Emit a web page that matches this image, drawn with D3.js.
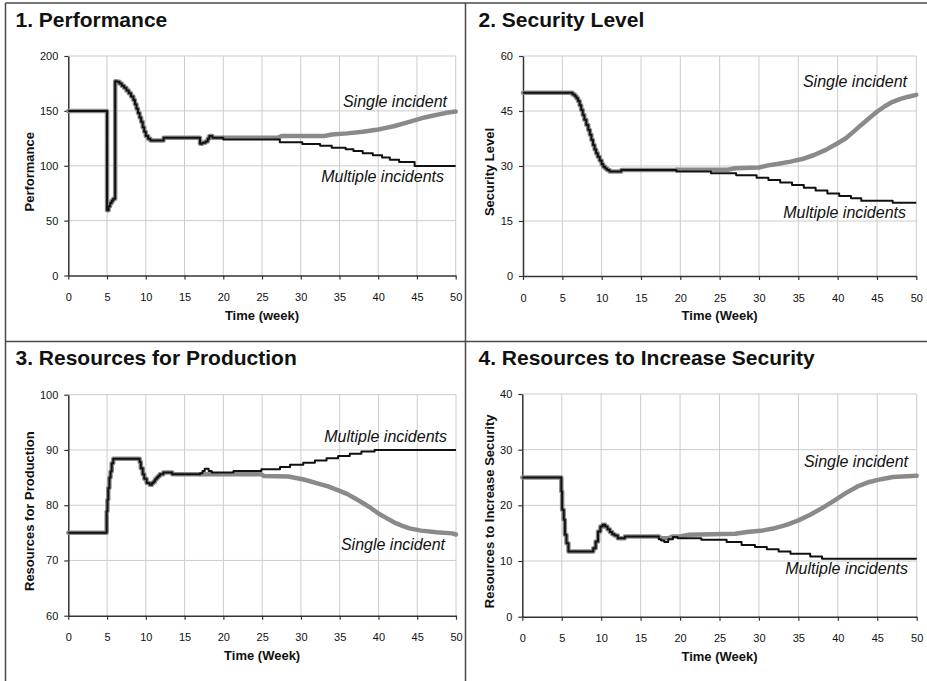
<!DOCTYPE html>
<html>
<head>
<meta charset="utf-8">
<script src="https://cdn.jsdelivr.net/npm/d3@7"></script>
<style>
  html, body { margin: 0; padding: 0; background: #fff; }
  svg { display: block; font-family: "Liberation Sans", Arial, sans-serif; }
</style>
</head>
<body>
<svg id="chart" width="927" height="681"></svg>
<script>
// ---------- DATA ----------
const xTicks = [0, 5, 10, 15, 20, 25, 30, 35, 40, 45, 50];

const titles = ["1. Performance", "2. Security Level", "3. Resources for Production", "4. Resources to Increase Security"];
const yTitles = ["Performance", "Security Level", "Resources for Production", "Resources to Increase Security"];
const xTitles = ["Time (week)", "Time (Week)", "Time (Week)", "Time (Week)"];
const yTicks1 = [0, 50, 100, 150, 200];
const yTicks2 = [0, 15, 30, 45, 60];
const yTicks3 = [60, 70, 80, 90, 100];
const yTicks4 = [0, 10, 20, 30, 40];

// Panel 1: Performance  [week, value]
const perfShared = [[0,150],[5.0,59.5],[5.2,63],[5.4,66],[5.6,68],[5.8,70],[6.05,177],[6.3,176.5],[6.6,175],[6.9,173],[7.2,171],[7.5,168.5],[7.8,166],[8.1,163],[8.4,160],[8.6,156],[8.8,152],[9.0,148],[9.2,144],[9.4,140],[9.6,135],[9.8,131],[10.0,127],[10.3,124.5],[10.6,123],[12.3,125.5],[17.0,120],[17.3,121],[17.7,122],[18.0,124.5],[18.2,127],[18.6,125.5]];
const perfSingle = [[20,125.5],[27,125.5],[27.5,127],[33,127],[34,128.5],[36,129.5],[38,131],[40,133],[41,134.5],[42,136],[43,138],[44,140],[45,142],[46,144],[47,145.5],[48,147],[49,148.5],[50,149.5]];
const perfMultiple = [[20,124],[27.3,121.3],[30.2,119.8],[32.5,118.2],[34,116.4],[35.8,115],[36.8,113.5],[38,111.5],[39.3,109.5],[40.5,107.5],[41.5,105.5],[42.7,103.5],[44.7,99.8],[50,99.8]];

// Panel 2: Security Level
const secShared = [[0,50],[6.3,49.5],[6.6,49],[6.8,48.5],[7.0,47.7],[7.2,46.6],[7.4,45.3],[7.6,43.9],[7.8,42.6],[8.05,41.2],[8.3,39.8],[8.5,38.5],[8.7,37.1],[8.9,35.7],[9.1,34.5],[9.3,33.5],[9.5,32.5],[9.75,31.5],[10.0,30.5],[10.2,29.8],[10.45,29.3],[10.7,28.9],[11.0,28.5],[12.5,28.9]];
const secSingle = [[19.5,29],[26,29],[27,29.4],[30,29.6],[31,30.1],[32.5,30.6],[34,31.2],[35.5,31.9],[37,33],[38.5,34.4],[40,36.2],[41,37.5],[42,39.3],[43,41.2],[44,43],[45,44.8],[46,46.3],[47,47.5],[48,48.3],[49,48.9],[50,49.4]];
const secMultiple = [[19.5,28.5],[23.9,28.0],[27.1,27.5],[29.7,26.8],[31.2,26.2],[32.7,25.5],[34.2,24.8],[35.7,24.1],[37.2,23.3],[38.7,22.5],[40.2,21.8],[41.7,21.2],[43.0,20.5],[47.0,20.0],[50,20.0]];

// Panel 3: Resources for Production
const prodShared = [[0,75],[4.95,78.9],[5.05,81],[5.15,83.1],[5.3,85],[5.45,86.1],[5.6,87.6],[5.8,88.4],[9.2,87.8],[9.35,86.7],[9.6,85.6],[9.8,84.8],[10.1,84],[10.5,83.7],[10.8,84],[11.0,84.3],[11.2,84.7],[11.4,85],[11.6,85.3],[11.8,85.6],[12.25,85.9],[13.4,85.6]];
const prodSingle = [[17,85.6],[24.9,85.6],[25.2,85.3],[28.4,85.2],[30.5,84.6],[32,84.0],[33.5,83.4],[35,82.6],[36,82.0],[37,81.2],[38,80.4],[39,79.5],[40,78.5],[41,77.7],[42,76.9],[43,76.3],[44,75.8],[45.5,75.4],[47.5,75.1],[49.5,74.9],[50,74.7]];
const prodMultiple = [[17,85.8],[17.3,86.2],[17.6,86.6],[18.1,86.2],[18.5,85.9],[21.3,86.2],[24.9,86.5],[27.3,86.9],[28.6,87.3],[30.3,87.7],[31.8,88.1],[33.3,88.5],[34.8,88.9],[36.3,89.3],[37.8,89.7],[39.5,90.0],[50,90.0]];

// Panel 4: Resources to Increase Security
const resShared = [[0,25],[4.95,22.5],[5.05,19.2],[5.25,17.4],[5.4,14.7],[5.6,13.2],[5.85,11.7],[9.0,12.3],[9.3,13.5],[9.6,15.3],[9.9,16.2],[10.2,16.5],[10.5,16.2],[10.8,15.7],[11.1,15.2],[11.4,14.8],[11.7,14.6],[12.1,14.1],[13,14.4]];
const resSingle = [[17.3,14.4],[17.6,14.1],[18.5,14.1],[19,14.4],[20,14.4],[21,14.7],[27,14.9],[28.5,15.2],[30.5,15.5],[32,15.9],[33.5,16.5],[35,17.3],[36.5,18.3],[38,19.5],[39.5,20.8],[41,22.2],[42.5,23.4],[44,24.2],[45.5,24.7],[47,25.1],[50,25.3]];
const resMultiple = [[17.3,13.9],[17.6,13.7],[18,13.4],[18.5,13.9],[19.1,14.3],[19.7,14.1],[22.7,13.8],[25.9,13.4],[27.8,12.9],[29.5,12.5],[31,12.1],[32.5,11.7],[34,11.3],[36.5,10.8],[38,10.4],[50,10.4]];

const seriesNames = ["Single incident", "Multiple incidents"];

// ---------- LAYOUT ----------
const panels = [
  { ox: 0,   oy: 0,   x0: 68.3, x1: 455.7, yT: 56,    yB: 275.5, yTicks: yTicks1, shared: perfShared, single: perfSingle, multiple: perfMultiple,
    ytx: 33.5, lab: { s: [447, 106.5], m: [444, 181.5] } },
  { ox: 463, oy: 0,   x0: 523,  x1: 916.3, yT: 56,    yB: 276,   yTicks: yTicks2, shared: secShared, single: secSingle, multiple: secMultiple,
    ytx: 494, lab: { s: [907, 86.5], m: [906, 218.3] } },
  { ox: 0,   oy: 338, x0: 68.3, x1: 456,   yT: 394.7, yB: 615.7, yTicks: yTicks3, shared: prodShared, single: prodSingle, multiple: prodMultiple,
    ytx: 33.5, lab: { s: [445, 550.3], m: [447, 442.3] } },
  { ox: 463, oy: 338, x0: 522.3,x1: 916.7, yT: 394,   yB: 616.7, yTicks: yTicks4, shared: resShared, single: resSingle, multiple: resMultiple,
    ytx: 494, lab: { s: [908, 467.3], m: [908, 574] } }
];

const svg = d3.select("#chart");

// frame lines
const frame = svg.append("g").attr("stroke", "#4a4a4a").attr("stroke-width", 1.5);
frame.append("line").attr("x1", 5.5).attr("x2", 5.5).attr("y1", 3).attr("y2", 681);
frame.append("line").attr("x1", 5.5).attr("x2", 927).attr("y1", 3).attr("y2", 3);
frame.append("line").attr("x1", 465.5).attr("x2", 465.5).attr("y1", 3).attr("y2", 681);
frame.append("line").attr("x1", 5.5).attr("x2", 927).attr("y1", 341.5).attr("y2", 341.5);

panels.forEach((p, i) => {
  const g = svg.append("g");
  const yDom = [p.yTicks[0], p.yTicks[p.yTicks.length - 1]];
  const x = d3.scaleLinear().domain([0, 50]).range([p.x0, p.x1]);
  const y = d3.scaleLinear().domain(yDom).range([p.yB, p.yT]);

  // title
  g.append("text").attr("x", p.ox + 15.5).attr("y", p.oy + 27)
    .attr("font-size", 21).attr("font-weight", "bold").attr("fill", "#111")
    .text(titles[i]);

  // gridlines
  const grid = g.append("g").attr("stroke", "#cccccc").attr("stroke-width", 1);
  grid.selectAll(".vg").data(xTicks.slice(1)).join("line")
    .attr("x1", d => x(d)).attr("x2", d => x(d)).attr("y1", p.yT).attr("y2", p.yB);
  grid.selectAll(".hg").data(p.yTicks.slice(1)).join("line")
    .attr("x1", p.x0).attr("x2", p.x1).attr("y1", d => y(d)).attr("y2", d => y(d));

  // axes
  const xAxis = d3.axisBottom(x).tickValues(xTicks).tickSizeInner(4).tickSizeOuter(0).tickPadding(14);
  const yAxis = d3.axisLeft(y).tickValues(p.yTicks).tickSizeInner(4).tickSizeOuter(0).tickPadding(6);
  const gx = g.append("g").attr("transform", `translate(0,${p.yB})`).call(xAxis);
  const gy = g.append("g").attr("transform", `translate(${p.x0},0)`).call(yAxis);
  [gx, gy].forEach(a => {
    a.select(".domain").attr("stroke", "#333").attr("stroke-width", 1.5);
    a.selectAll(".tick line").attr("stroke", "#333").attr("stroke-width", 1.2);
    a.selectAll(".tick text").attr("font-size", 11).attr("fill", "#111")
      .attr("font-family", "'Liberation Sans', Arial, sans-serif");
  });

  // axis titles
  g.append("text").attr("x", (p.x0 + p.x1) / 2).attr("y", p.yB + 44)
    .attr("text-anchor", "middle").attr("font-size", 13).attr("font-weight", "bold").attr("fill", "#111")
    .text(xTitles[i]);
  const cy = (p.yT + p.yB) / 2 + 6;
  g.append("text").attr("transform", `translate(${p.ytx},${cy}) rotate(-90)`)
    .attr("text-anchor", "middle").attr("font-size", 13).attr("font-weight", "bold").attr("fill", "#111")
    .text(yTitles[i]);

  // lines: shared part and multiple tail are stepped; single tail is smooth
  const stepLine = d3.line().x(d => x(d[0])).y(d => y(d[1])).curve(d3.curveStepAfter);
  const linLine = d3.line().x(d => x(d[0])).y(d => y(d[1])).curve(d3.curveLinear);
  const grayStyle = sel => sel.attr("fill", "none").attr("stroke", "#8a8a8a").attr("stroke-width", 4.5)
    .attr("stroke-linejoin", "round").attr("stroke-linecap", "round");
  g.append("path").datum(p.shared.concat([p.single[0]])).attr("d", stepLine).call(grayStyle);
  g.append("path").datum(p.single).attr("d", linLine).call(grayStyle);
  g.append("path").datum(p.shared.concat(p.multiple)).attr("d", stepLine)
    .attr("fill", "none").attr("stroke", "#111").attr("stroke-width", 2).attr("stroke-linejoin", "round");

  // series labels
  g.append("text").attr("x", p.lab.s[0]).attr("y", p.lab.s[1]).attr("text-anchor", "end")
    .attr("font-size", 16).attr("font-style", "italic").attr("fill", "#111").text(seriesNames[0]);
  g.append("text").attr("x", p.lab.m[0]).attr("y", p.lab.m[1]).attr("text-anchor", "end")
    .attr("font-size", 16).attr("font-style", "italic").attr("fill", "#111").text(seriesNames[1]);
});
</script>
</body>
</html>
